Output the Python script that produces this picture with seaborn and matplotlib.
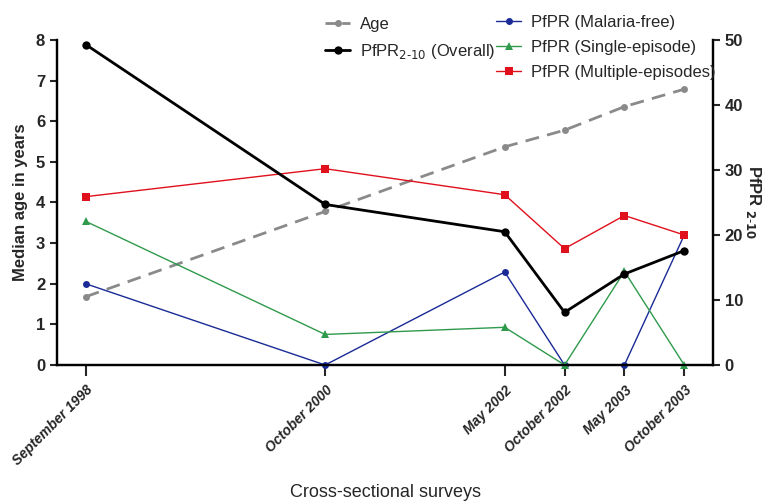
import numpy as np
import pandas as pd
import seaborn as sns
import matplotlib.pyplot as plt
from matplotlib.lines import Line2D

sns.set_style("ticks")
plt.rcParams['font.family'] = ['Liberation Sans', 'DejaVu Sans']

# ---- data ----
surveys = ['September 1998', 'October 2000', 'May 2002', 'October 2002', 'May 2003', 'October 2003']
survey_x = [0, 4, 7, 8, 9, 10]          # survey spacing on the time axis
median_age = [1.68, 3.78, 5.37, 5.78, 6.36, 6.79]
pfpr_overall = [49.3, 24.7, 20.5, 8.1, 14.0, 17.6]
pfpr_free = [12.5, 0.0, 14.3, 0.0, 0.0, 20.0]
pfpr_single = [22.1, 4.7, 5.8, 0.0, 14.4, 0.0]
pfpr_multi = [25.9, 30.2, 26.2, 17.9, 23.0, 20.0]

df = pd.DataFrame({'x': survey_x, 'age': median_age, 'overall': pfpr_overall,
                   'free': pfpr_free, 'single': pfpr_single, 'multi': pfpr_multi})

fig = plt.figure(figsize=(7.63, 5.04), dpi=100)
ax = fig.add_axes([57/763, 1-365/504, (713-57)/763, (365-40)/504])
ax2 = ax.twinx()

sns.lineplot(data=df, x='x', y='age', ax=ax, color='#8a8a8a', linestyle='--', lw=2,
             marker='o', markersize=5, markeredgewidth=0, dashes=False)
ax.lines[-1].set_dashes([5, 3])

sns.lineplot(data=df, x='x', y='free', ax=ax2, color='#1a2a96', lw=1,
             marker='o', markersize=5, markeredgewidth=0)
sns.lineplot(data=df, x='x', y='single', ax=ax2, color='#2f9a4c', lw=1,
             marker='^', markersize=6, markeredgewidth=0)
sns.lineplot(data=df, x='x', y='multi', ax=ax2, color='#e0101c', lw=1,
             marker='s', markersize=6, markeredgewidth=0)
sns.lineplot(data=df, x='x', y='overall', ax=ax2, color='black', lw=2,
             marker='o', markersize=6, markeredgewidth=0)
for l in ax2.lines:
    l.set_clip_on(False)
for l in ax.lines:
    l.set_clip_on(False)

ax.set_xlim(-0.48, 10.48)
ax.set_ylim(0, 8)
ax2.set_ylim(0, 50)
ax.set_yticks(range(0, 9))
ax2.set_yticks(range(0, 51, 10))
ax.set_xticks(survey_x)
ax.set_xticklabels(surveys, rotation=45, ha='right', rotation_mode='anchor',
                   fontweight='bold', fontstyle='italic', fontsize=10)

for a in (ax, ax2):
    a.spines['top'].set_visible(False)
    for s in a.spines.values():
        s.set_linewidth(1.6)
        s.set_color('black')
    a.tick_params(axis='y', width=1.5, length=5, labelsize=12)
    for t in a.get_yticklabels():
        t.set_fontweight('bold')
ax.tick_params(axis='x', width=1.5, length=8, pad=5)

ax.set_ylabel('Median age in years', fontsize=12, fontweight='bold', labelpad=6)
ax2.set_ylabel('PfPR $_{\\mathbf{2\\text{-}10}}$', fontsize=12, fontweight='bold',
               rotation=-90, labelpad=14)
ax.set_xlabel('Cross-sectional surveys', fontsize=13, labelpad=11)

h1 = [Line2D([], [], color='#8a8a8a', ls='--', dashes=[4, 2], lw=2, marker='o', ms=5, mew=0),
      Line2D([], [], color='black', lw=2, marker='o', ms=6, mew=0)]
l1 = ['Age', 'PfPR$_{2\\text{-}10}$ (Overall)']
h2 = [Line2D([], [], color='#1a2a96', lw=1, marker='o', ms=5, mew=0),
      Line2D([], [], color='#2f9a4c', lw=1, marker='^', ms=6, mew=0),
      Line2D([], [], color='#e0101c', lw=1, marker='s', ms=6, mew=0)]
l2 = ['PfPR (Malaria-free)', 'PfPR (Single-episode)', 'PfPR (Multiple-episodes)']
fig.legend(h1, l1, loc='upper left', bbox_to_anchor=(310/763, 1-2/504), frameon=False,
           fontsize=12, handlelength=1.5, labelspacing=0.6, handletextpad=0.6)
fig.legend(h2, l2, loc='upper left', bbox_to_anchor=(481/763, 1-0/504), frameon=False,
           fontsize=12, handlelength=1.5, labelspacing=0.6, handletextpad=0.6)

fig.savefig('out.png', dpi=100)
